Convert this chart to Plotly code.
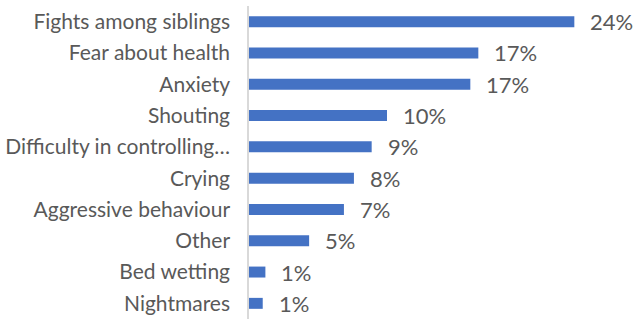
import plotly.graph_objects as go

# Reasons reported, listed top to bottom
categories = [
    "Fights among siblings",
    "Fear about health",
    "Anxiety",
    "Shouting",
    "Difficulty in controlling…",
    "Crying",
    "Aggressive behaviour",
    "Other",
    "Bed wetting",
    "Nightmares",
]
# Share of respondents (%)
values = [24.4, 17.2, 16.6, 10.35, 9.2, 7.87, 7.12, 4.51, 1.23, 1.03]

BAR_COLOR = "#4472C4"
TEXT_COLOR = "#595959"
FONT = "Lato"
TICK_SIZE = 21
VALUE_SIZE = 22

fig = go.Figure(
    go.Bar(
        x=values,
        y=categories,
        orientation="h",
        marker=dict(color=BAR_COLOR, line=dict(width=0)),
        hoverinfo="skip",
    )
)

# Value labels just to the right of each bar
for cat, val in zip(categories, values):
    fig.add_annotation(
        x=val,
        y=cat,
        text=f"{val:.0f}%",
        showarrow=False,
        xanchor="left",
        yanchor="middle",
        xshift=14,
        font=dict(family=FONT, size=VALUE_SIZE, color=TEXT_COLOR),
    )

fig.update_layout(
    width=635,
    height=320,
    margin=dict(l=249, r=0, t=6, b=1),
    paper_bgcolor="white",
    plot_bgcolor="white",
    bargap=0.65,
    showlegend=False,
    font=dict(family=FONT, size=TICK_SIZE, color=TEXT_COLOR),
)
fig.update_xaxes(
    range=[0, 28.95],
    visible=False,
    fixedrange=True,
)
fig.update_yaxes(
    categoryorder="array",
    categoryarray=categories[::-1],
    automargin=False,
    showline=True,
    linecolor="#D9D9D9",
    linewidth=1.5,
    showgrid=False,
    ticks="",
    ticklabelstandoff=13,
    tickfont=dict(family=FONT, size=TICK_SIZE, color=TEXT_COLOR),
    fixedrange=True,
)

fig.write_html("out.html")
